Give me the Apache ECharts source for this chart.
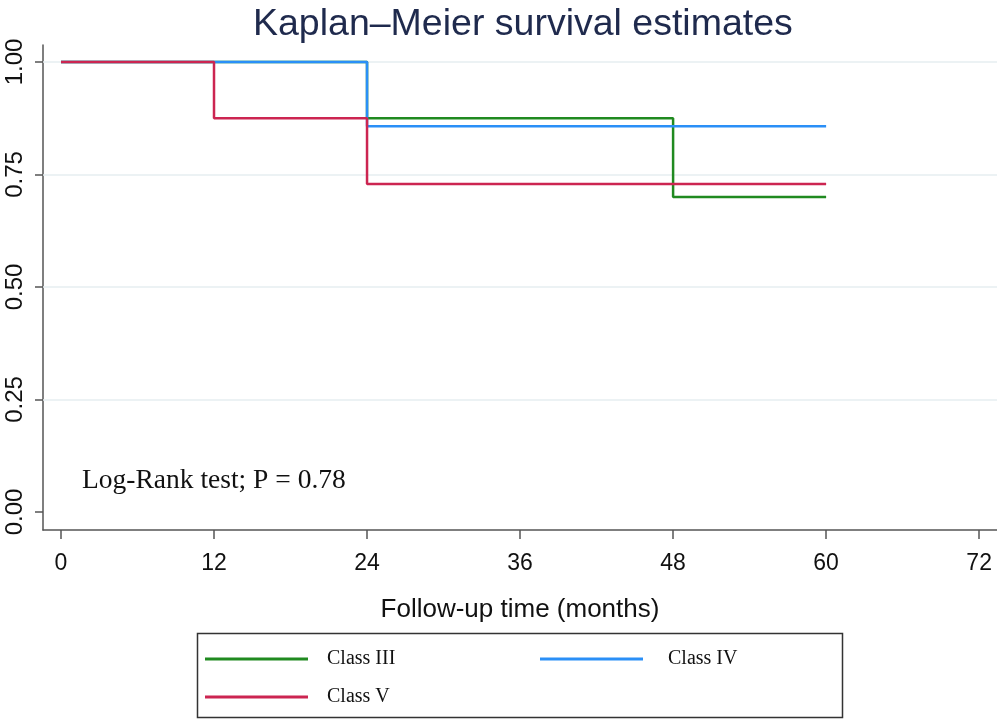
<!DOCTYPE html>
<html>
<head>
<meta charset="utf-8">
<script src="https://cdn.jsdelivr.net/npm/echarts@6/dist/echarts.min.js"></script>
<style>html,body{margin:0;padding:0;background:#fff;}#c{width:997px;height:720px;}</style>
</head>
<body>
<div id="c"></div>
<script>
const seriesNames = ['Class III', 'Class IV', 'Class V'];
const classIIITimes = [0, 24, 48, 60];
const classIIIValues = [1.0, 0.875, 0.70, 0.70];
const classIVTimes = [0, 24, 60];
const classIVValues = [1.0, 0.857, 0.857];
const classVTimes = [0, 12, 24, 60];
const classVValues = [1.0, 0.875, 0.729, 0.729];
const xTicks = [0, 12, 24, 36, 48, 60, 72];
const yTicks = [0, 0.25, 0.5, 0.75, 1.0];
const yGrid = [0.25, 0.5, 0.75, 1.0];
const colors = ['#208a20', '#2a8ff7', '#cc2551'];

function pairs(t, v) { return t.map((x, i) => [x, v[i]]); }

const chart = echarts.init(document.getElementById('c'), null, {renderer: 'canvas'});
const axisColor = '#555';
const legendText = {fontFamily: 'Liberation Serif, Times New Roman', fontSize: 20, color: '#111', padding: [0, 0, 0, 14]};
const legendIcon = 'path://M0,8.5h100v3h-100z';
const option = {
  animation: false,
  title: {
    text: 'Kaplan–Meier survival estimates',
    left: 248, top: 1,
    textStyle: {fontFamily: 'Liberation Sans, Arial', fontSize: 37.5, fontWeight: 'normal', color: '#1f2a4d'}
  },
  grid: {left: 43, right: 0, top: 45, bottom: 190, containLabel: false},
  xAxis: {
    type: 'value', min: -1.41, max: 73.4,
    name: 'Follow-up time (months)', nameLocation: 'middle', nameGap: 67,
    nameTextStyle: {fontFamily: 'Liberation Sans, Arial', fontSize: 26, color: '#111'},
    axisLine: {show: true, onZero: false, lineStyle: {color: axisColor, width: 1.5}},
    axisTick: {show: true, length: 9, lineStyle: {color: axisColor, width: 1.5}, customValues: xTicks},
    axisLabel: {customValues: xTicks, margin: 22, fontFamily: 'Liberation Sans, Arial', fontSize: 23, color: '#111'},
    splitLine: {show: false}
  },
  yAxis: {
    type: 'value', min: -0.04, max: 1.0378,
    axisLine: {show: true, onZero: false, lineStyle: {color: axisColor, width: 1.5}},
    axisTick: {show: true, length: 8, lineStyle: {color: axisColor, width: 1.5}, customValues: yTicks},
    axisLabel: {customValues: yTicks, rotate: 90, margin: 16, fontFamily: 'Liberation Sans, Arial', fontSize: 24, color: '#111',
      formatter: v => v.toFixed(2)},
    splitLine: {show: false}
  },
  legend: [
    {
      data: ['Class III'], left: 200, top: 644, itemWidth: 103, itemHeight: 20,
      icon: legendIcon, textStyle: legendText
    },
    {
      data: ['Class IV'], left: 535, top: 644, itemWidth: 103, itemHeight: 20,
      icon: legendIcon, textStyle: Object.assign({}, legendText, {padding: [0, 0, 0, 20]})
    },
    {
      data: ['Class V'], left: 200, top: 682, itemWidth: 103, itemHeight: 20,
      icon: legendIcon, textStyle: legendText
    }
  ],
  graphic: [
    {type: 'rect', shape: {x: 197.5, y: 633.5, width: 645, height: 84}, style: {fill: 'none', stroke: '#333', lineWidth: 1.5}, z: 0},
    {type: 'text', left: 82, top: 467, style: {text: 'Log-Rank test; P = 0.78', font: '27.5px "Liberation Serif", "Times New Roman"', fill: '#111'}}
  ],
  series: [
    {
      name: 'grid', type: 'line', data: [], silent: true, z: 1,
      markLine: {silent: true, z: 1, symbol: 'none', label: {show: false},
        lineStyle: {color: '#e6eef0', width: 1.5, type: 'solid'},
        data: yGrid.map(v => ({yAxis: v}))}
    },
    {name: seriesNames[0], type: 'line', step: 'end', data: pairs(classIIITimes, classIIIValues), showSymbol: false, symbol: 'none', z: 3,
      lineStyle: {color: colors[0], width: 2.5}, itemStyle: {color: colors[0]}},
    {name: seriesNames[1], type: 'line', step: 'end', data: pairs(classIVTimes, classIVValues), showSymbol: false, symbol: 'none', z: 3,
      lineStyle: {color: colors[1], width: 2.5}, itemStyle: {color: colors[1]}},
    {name: seriesNames[2], type: 'line', step: 'end', data: pairs(classVTimes, classVValues), showSymbol: false, symbol: 'none', z: 3,
      lineStyle: {color: colors[2], width: 2.5}, itemStyle: {color: colors[2]}}
  ]
};
chart.setOption(option);
</script>
</body>
</html>
